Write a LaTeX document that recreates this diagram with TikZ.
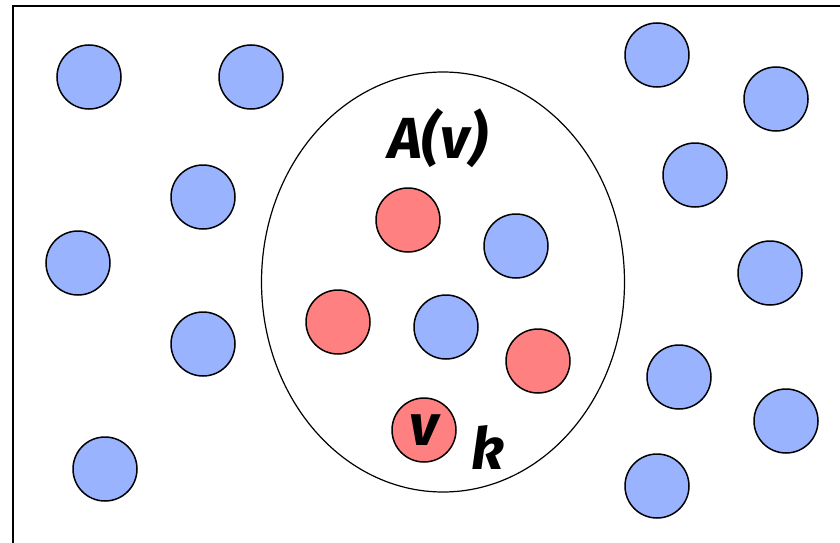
\documentclass[tikz,border=0pt]{standalone}
\usepackage{fontspec}
\usetikzlibrary{shapes.geometric}
\setmainfont{Fira Sans}
\definecolor{bluefill}{HTML}{99B3FF}
\definecolor{redfill}{HTML}{FF8080}
\begin{document}
\begin{tikzpicture}[x=1pt,y=-1pt,
  dot/.style={circle,draw=black,line width=1.5pt,minimum size=64pt,inner sep=0pt},
  bdot/.style={dot,fill=bluefill},
  rdot/.style={dot,fill=redfill},
  lbl/.style={font=\fontsize{58}{58}\selectfont\bfseries\itshape,inner sep=0pt}]
\useasboundingbox (0,0) rectangle (840,543);
\draw[line width=1.6pt] (13,560) -- (13,6) -- (860,6);
\node[ellipse,draw,line width=1.2pt,minimum width=363pt,minimum height=420pt,inner sep=0pt] (av) at (443,282) {};
\node[bdot] (b1) at (89,77) {};
\node[bdot] (b2) at (251,77) {};
\node[bdot] (b3) at (203,197) {};
\node[bdot] (b4) at (78,263) {};
\node[bdot] (b5) at (203,344) {};
\node[bdot] (b6) at (105,469) {};
\node[bdot] (b7) at (657,55) {};
\node[bdot] (b8) at (776,99) {};
\node[bdot] (b9) at (695,175) {};
\node[bdot] (b10) at (770,273) {};
\node[bdot] (b11) at (679,377) {};
\node[bdot] (b12) at (786,421) {};
\node[bdot] (b13) at (657,486) {};
\node[bdot] (b14) at (516,246) {};
\node[bdot] (b15) at (446,327) {};
\node[rdot] (r1) at (408,220) {};
\node[rdot] (r2) at (338,322) {};
\node[rdot] (r3) at (538,361) {};
\node[rdot,lbl] (v) at (424,430) {v};
\node[lbl] (alab) at (438,138) {A(v)};
\node[lbl] (klab) at (488,447) {k};
\end{tikzpicture}
\end{document}
